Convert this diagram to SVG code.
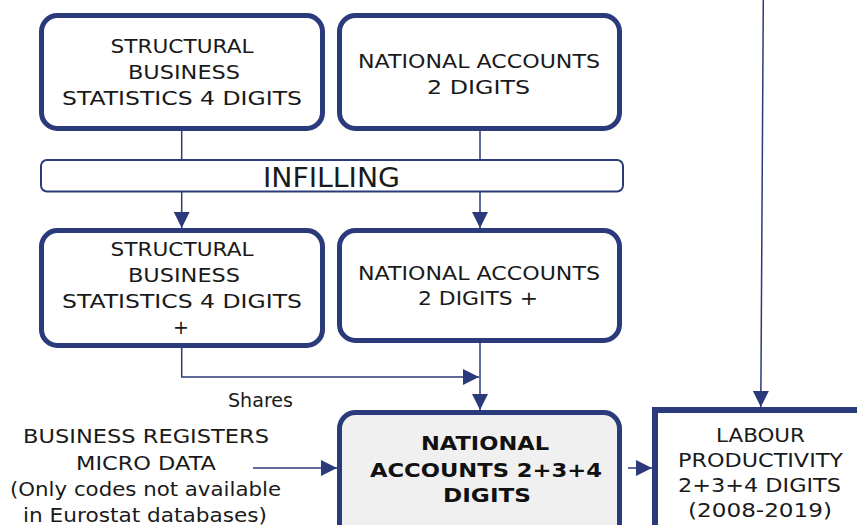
<svg xmlns="http://www.w3.org/2000/svg" width="857" height="525" viewBox="0 0 857 525">
<style>
.box{fill:#ffffff;stroke:#2b3a7b;stroke-width:5}
.t{font-family:"DejaVu Sans",Verdana,sans-serif;font-size:19px;fill:#1a1a1a;text-anchor:middle}
.tb{font-family:"DejaVu Sans",Verdana,sans-serif;font-size:19px;font-weight:bold;fill:#111;text-anchor:middle}
.c{fill:none;stroke:#2b3a7b;stroke-width:1.5}
</style>
<defs>
<marker id="ah" markerUnits="userSpaceOnUse" markerWidth="16" markerHeight="16" viewBox="0 0 14 14" refX="14" refY="7" orient="auto">
<path d="M0,0 L14,7 L0,14 Z" fill="#2b3a7b"/>
</marker>
</defs>
<g id="connectors">
<line class="c" x1="181.7" y1="128" x2="181.7" y2="160"/>
<line class="c" x1="480" y1="128" x2="480" y2="160"/>
<line class="c" x1="181.7" y1="192" x2="181.7" y2="228" marker-end="url(#ah)"/>
<line class="c" x1="480" y1="192" x2="480" y2="228" marker-end="url(#ah)"/>
<polyline class="c" points="181.7,346 181.7,377 479,377" marker-end="url(#ah)"/>
<line class="c" x1="480" y1="342" x2="480" y2="410" marker-end="url(#ah)"/>
<line class="c" x1="253" y1="468" x2="337" y2="468" marker-end="url(#ah)"/>
<line class="c" x1="628" y1="468" x2="652" y2="468" marker-end="url(#ah)"/>
<line class="c" x1="763.3" y1="0" x2="760.8" y2="407" stroke="#4a5a98" marker-end="url(#ah)"/>
</g>
<g id="sbs">
<rect class="box" x="41.5" y="15.5" width="281" height="113" rx="16"/>
<text class="t" x="182" y="53" textLength="143" lengthAdjust="spacingAndGlyphs">STRUCTURAL</text>
<text class="t" x="184" y="79" textLength="112" lengthAdjust="spacingAndGlyphs">BUSINESS</text>
<text class="t" x="182" y="105" textLength="240" lengthAdjust="spacingAndGlyphs">STATISTICS 4 DIGITS</text>
</g>
<g id="na">
<rect class="box" x="339.5" y="15.5" width="280" height="113" rx="16"/>
<text class="t" x="479" y="68" textLength="242" lengthAdjust="spacingAndGlyphs">NATIONAL ACCOUNTS</text>
<text class="t" x="478.5" y="94" textLength="103" lengthAdjust="spacingAndGlyphs">2 DIGITS</text>
</g>
<g id="infilling">
<rect x="41" y="160" width="582" height="31.5" rx="6" fill="#ffffff" stroke="#2b3a7b" stroke-width="2"/>
<text class="t" x="331.5" y="187" font-size="26" style="font-size:26px" textLength="137" lengthAdjust="spacingAndGlyphs">INFILLING</text>
</g>
<g id="sbs-plus">
<rect class="box" x="41.5" y="230.5" width="281" height="115" rx="16"/>
<text class="t" x="182" y="256" textLength="143" lengthAdjust="spacingAndGlyphs">STRUCTURAL</text>
<text class="t" x="184" y="282" textLength="112" lengthAdjust="spacingAndGlyphs">BUSINESS</text>
<text class="t" x="182" y="308" textLength="240" lengthAdjust="spacingAndGlyphs">STATISTICS 4 DIGITS</text>
<text class="t" x="181" y="334">+</text>
</g>
<g id="na-plus">
<rect class="box" x="339.5" y="230.5" width="280" height="110" rx="16"/>
<text class="t" x="479" y="280" textLength="242" lengthAdjust="spacingAndGlyphs">NATIONAL ACCOUNTS</text>
<text class="t" x="478" y="305" textLength="120" lengthAdjust="spacingAndGlyphs">2 DIGITS +</text>
</g>
<g id="shares-label">
<text class="t" x="260.5" y="407" textLength="65" lengthAdjust="spacingAndGlyphs">Shares</text>
</g>
<g id="business-registers">
<text class="t" x="146" y="443" textLength="246" lengthAdjust="spacingAndGlyphs">BUSINESS REGISTERS</text>
<text class="t" x="146" y="470" textLength="140" lengthAdjust="spacingAndGlyphs">MICRO DATA</text>
<text class="t" x="145.5" y="496" textLength="271" lengthAdjust="spacingAndGlyphs">(Only codes not available</text>
<text class="t" x="145" y="522" textLength="244" lengthAdjust="spacingAndGlyphs">in Eurostat databases)</text>
</g>
<g id="na-234">
<rect x="339.5" y="412.5" width="280" height="140" rx="16" fill="#f0f0f0" stroke="#2b3a7b" stroke-width="5"/>
<text class="tb" x="485" y="450" textLength="128" lengthAdjust="spacingAndGlyphs">NATIONAL</text>
<text class="tb" x="486" y="477" textLength="232" lengthAdjust="spacingAndGlyphs">ACCOUNTS  2+3+4</text>
<text class="tb" x="487" y="502" textLength="88" lengthAdjust="spacingAndGlyphs">DIGITS</text>
</g>
<g id="labour">
<rect x="655" y="410" width="230" height="140" fill="#ffffff" stroke="#2b3a7b" stroke-width="6"/>
<text class="t" x="760.5" y="442" textLength="89" lengthAdjust="spacingAndGlyphs">LABOUR</text>
<text class="t" x="760.5" y="467" textLength="165" lengthAdjust="spacingAndGlyphs">PRODUCTIVITY</text>
<text class="t" x="759.5" y="492" textLength="163" lengthAdjust="spacingAndGlyphs">2+3+4 DIGITS</text>
<text class="t" x="760" y="517" textLength="144" lengthAdjust="spacingAndGlyphs">(2008-2019)</text>
</g>
</svg>
